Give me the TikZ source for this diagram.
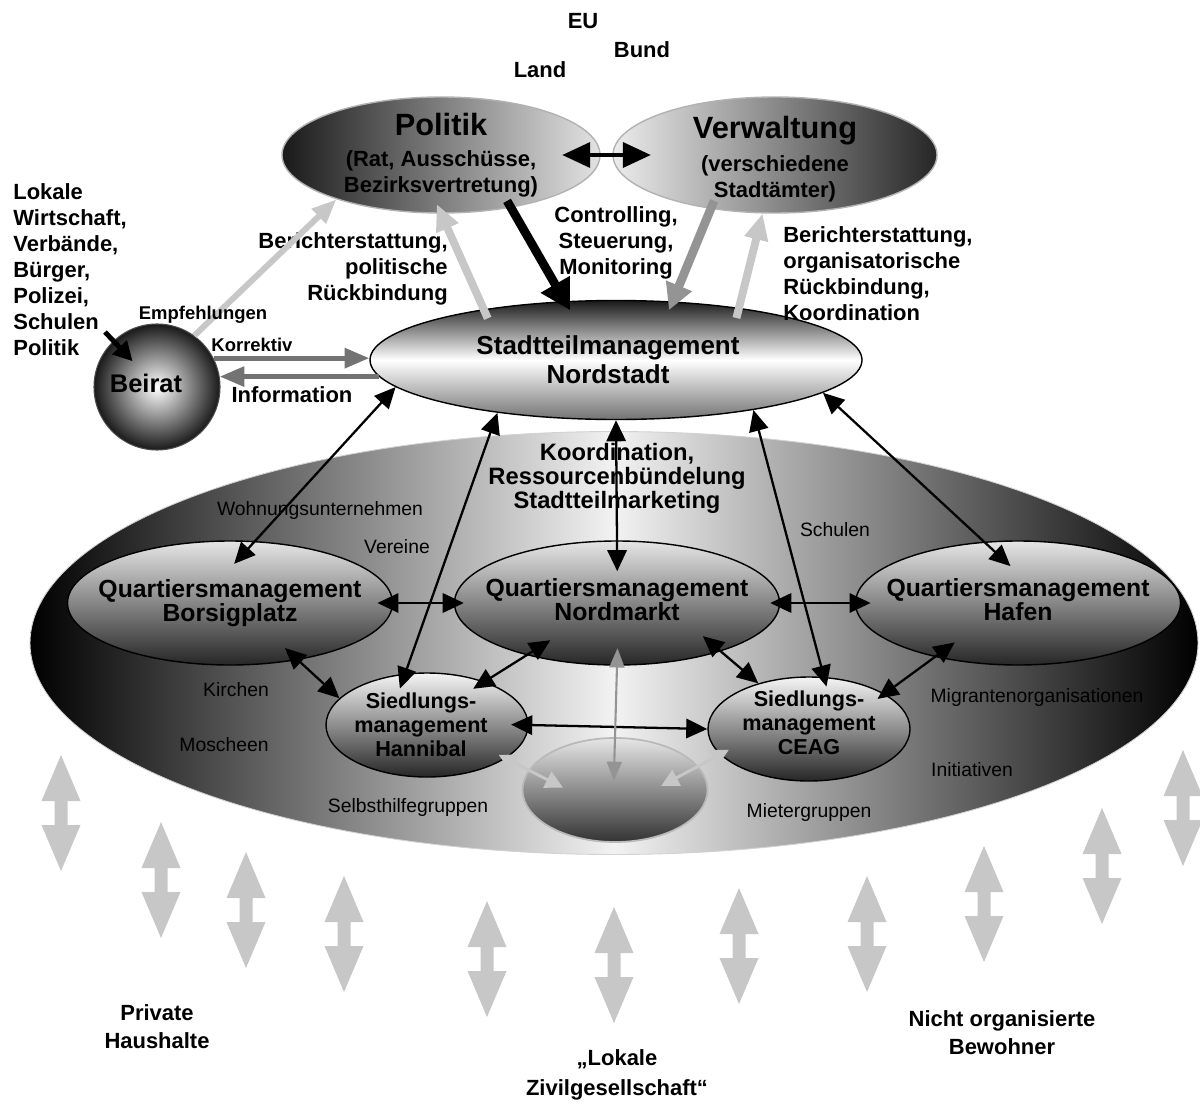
\documentclass[tikz,border=0pt]{standalone}
\usepackage{fontspec}
\setmainfont{Liberation Sans}
\usetikzlibrary{shapes.geometric,arrows.meta}

\definecolor{pale}{gray}{0.78}
\definecolor{midgrey}{gray}{0.58}
\definecolor{darkgrey}{gray}{0.45}

\begin{document}
\begin{tikzpicture}[x=2cm,y=2cm,
  lbl/.style={inner sep=0pt, font=\bfseries\fontsize{12.5}{14.8}\selectfont},
  lblsmall/.style={inner sep=0pt, font=\bfseries\fontsize{10.5}{12}\selectfont},
  grp/.style={inner sep=0pt, font=\fontsize{11}{13}\selectfont},
  oval/.style={ellipse, line width=0.8pt},
  qmoval/.style={oval, draw=black, minimum width=6.5cm, minimum height=2.48cm, top color=gray!20, bottom color=black!85},
  smoval/.style={oval, draw=black, minimum width=4.04cm, minimum height=2.08cm, top color=gray!8, bottom color=black!85},
  qmtext/.style={inner sep=0pt, align=center, font=\bfseries\fontsize{14.1}{13.7}\selectfont},
  smtext/.style={inner sep=0pt, align=center, font=\bfseries\fontsize{12.3}{13.7}\selectfont},
  link/.style={draw=black, line width=1.3pt, >={Triangle[length=12pt,width=11pt]}, <->},
  greylink/.style={draw=midgrey, line width=1.2pt, >={Triangle[length=11pt,width=8.5pt]}, <->},
  faint/.style={draw=pale, line width=1.7pt, >={Triangle[length=10pt,width=10pt]}, <->},
  steer/.style={draw=black, line width=5pt, >={Triangle[length=17pt,width=18pt]}, ->},
  order/.style={draw=midgrey, line width=5pt, >={Triangle[length=15pt,width=15pt]}, ->},
  report/.style={draw=pale, line width=4.5pt, >={Triangle[length=15pt,width=13pt]}, ->},
  hint/.style={draw=pale, line width=3.4pt, >={Triangle[length=14pt,width=11pt]}, ->},
  talk/.style={draw=darkgrey, line width=2.8pt, >={Triangle[length=14pt,width=11pt]}, ->},
  duplex/.style={draw=black, line width=2.8pt, >={Triangle[length=16pt,width=14pt]}, <->},
  push/.style={draw=black, line width=2.8pt, >={Triangle[length=11pt,width=11pt]}, ->}
]
\useasboundingbox (0,0) rectangle (12,-11.06);

%% Background ellipse (lokale Zivilgesellschaft)
\node[oval, draw=gray!35, line width=0.5pt, minimum width=23.36cm, minimum height=8.46cm,
  left color=black, right color=black, middle color=gray!10] (big) at (6.14,-6.43) {};

%% Grey double arrows
\foreach \x/\y in {0.61/7.55, 1.61/8.22, 2.46/8.52, 3.44/8.76, 4.87/9.01, 6.14/9.07,
                   7.39/8.88, 8.67/8.76, 9.84/8.46, 11.02/8.08, 11.83/7.50}
  \fill[pale] (\x,-\y) -- ++(0.195,-0.46) -- ++(-0.13,0) -- ++(0,-0.24) -- ++(0.13,0)
    -- ++(-0.195,-0.46) -- ++(-0.195,0.46) -- ++(0.13,0) -- ++(0,0.24) -- ++(-0.13,0) -- cycle;

%% Upper level
\node[oval, draw=gray!60, minimum width=6.36cm, minimum height=2.32cm,
  left color=black!90, right color=gray!22] (politik) at (4.41,-1.55) {};
\node[oval, draw=gray!60, minimum width=6.48cm, minimum height=2.32cm,
  left color=gray!15, right color=black!85] (verw) at (7.75,-1.55) {};
\node[oval, draw=black, minimum width=9.84cm, minimum height=2.38cm,
  top color=black!90, bottom color=black!55, middle color=white] (stm) at (6.16,-3.60) {};
\node[circle, draw=black!70, line width=0.6pt, minimum size=2.52cm,
  inner color=white, outer color=black!90] (beirat) at (1.57,-3.87) {};

%% Quartiere
\node[qmoval] (qmb) at (2.30,-6.03) {};
\node[qmoval] (qmn) at (6.17,-6.03) {};
\node[qmoval] (qmh) at (10.18,-6.03) {};
\node[smoval] (smh) at (4.27,-7.25) {};
\node[smoval] (smc) at (8.09,-7.29) {};
\node[oval, draw=gray!55, line width=1pt, minimum width=3.7cm, minimum height=2.08cm,
  top color=gray!20, bottom color=black!80] (zg) at (6.15,-7.90) {};

%% Texts in the ovals
\node[lbl, align=center] (politiktext) at (politik)
  {{\fontsize{17.5}{20}\selectfont Politik}\\[3pt](Rat, Ausschüsse,\\Bezirksvertretung)};
\node[lbl, align=center] (verwtext) at ([yshift=-0.08cm]verw.center)
  {{\fontsize{17.5}{20}\selectfont Verwaltung}\\[4pt](verschiedene\\Stadtämter)};
\node[inner sep=0pt, align=center, font=\bfseries\fontsize{14.8}{16.5}\selectfont] (stmtext)
  at ([xshift=-0.16cm]stm.center) {Stadtteilmanagement\\Nordstadt};
\node[inner sep=0pt, font=\bfseries\fontsize{14.5}{16}\selectfont] (beirattext)
  at ([xshift=-0.22cm,yshift=0.08cm]beirat.center) {Beirat};
\node[qmtext] (qmbtext) at (qmb) {Quartiersmanagement\\Borsigplatz};
\node[qmtext] (qmntext) at ([yshift=0.06cm]qmn.center) {Quartiersmanagement\\Nordmarkt};
\node[qmtext] (qmhtext) at ([yshift=0.06cm]qmh.center) {Quartiersmanagement\\Hafen};
\node[smtext] (smhtext) at ([xshift=-0.12cm]smh.center) {Siedlungs-\\management\\Hannibal};
\node[smtext] (smctext) at ([yshift=0.12cm]smc.center) {Siedlungs-\\management\\CEAG};

%% Labels
\node[lbl] (eu) at (5.83,-0.21) {EU};
\node[lbl] (bund) at (6.42,-0.50) {Bund};
\node[lbl] (land) at (5.40,-0.70) {Land};
\node[lbl, align=left, anchor=west] (akteure) at (0.13,-2.70)
  {Lokale\\Wirtschaft,\\Verbände,\\Bürger,\\Polizei,\\Schulen\\Politik};
\node[lbl, align=right, anchor=east] (bericht) at (4.48,-2.69)
  {Berichterstattung,\\politische\\Rückbindung};
\node[lbl, align=center] (steuerung) at (6.16,-2.43) {Controlling,\\Steuerung,\\Monitoring};
\node[lbl, align=left, anchor=west] (rueck) at (7.83,-2.74)
  {Berichterstattung,\\organisatorische\\Rückbindung,\\Koordination};
\node[inner sep=0pt, align=center, font=\bfseries\fontsize{13.5}{13.7}\selectfont] (koord)
  at (6.17,-4.78) {Koordination,\\Ressourcenbündelung\\Stadtteilmarketing};
\node[grp] (wohnung) at (3.20,-5.10) {Wohnungsunternehmen};
\node[grp] (vereine) at (3.97,-5.47) {Vereine};
\node[grp] (schulen) at (8.35,-5.30) {Schulen};
\node[grp] (kirchen) at (2.36,-6.90) {Kirchen};
\node[grp] (moscheen) at (2.24,-7.45) {Moscheen};
\node[grp] (migranten) at (10.37,-6.97) {Migrantenorganisationen};
\node[grp] (initiativen) at (9.72,-7.70) {Initiativen};
\node[grp] (selbsthilfe) at (4.08,-8.07) {Selbsthilfegruppen};
\node[grp] (mieter) at (8.09,-8.12) {Mietergruppen};
\node[lbl, align=center, font=\bfseries\fontsize{12.5}{16}\selectfont] (haushalte)
  at (1.57,-10.27) {Private\\Haushalte};
\node[lbl, align=center, font=\bfseries\fontsize{12.5}{17}\selectfont] (zivil)
  at (6.17,-10.75) {„Lokale\\Zivilgesellschaft“};
\node[lbl, align=center, font=\bfseries\fontsize{12.5}{16}\selectfont] (bewohner)
  at (10.02,-10.33) {Nicht organisierte\\Bewohner};

%% Upper arrows
\draw[hint] (beirat.54) -- (politik.203);
\draw[report, shorten <=-5.7pt, shorten >=-6pt] (stm.159) -- (politik.270);
\draw[steer, shorten <=-4.5pt, shorten >=-6pt] (politik.323) -- (stm.131);
\draw[order, shorten <=-5pt, shorten >=-5.4pt] (verw.220) -- (stm.46);
\draw[report, shorten <=-6pt] (stm.23) -- (verw.258);
\draw[duplex, shorten <=-22pt, shorten >=-22pt] (politik.0) -- (verw.180);

%% Beirat
\coordinate (polin) at (1.05,-3.32);
\draw[push, shorten >=-16pt] (polin) -- (beirat);
\draw[talk] (beirat.27) -- (beirat.27 -| stm.west);
\draw[talk] (stm.184) -- (stm.184 -| beirat.9);
\node[lblsmall] (empf) at (2.03,-3.15) {Empfehlungen};
\node[lblsmall] (korr) at (2.52,-3.45) {Korrektiv};
\node[lbl] (info) at (2.92,-3.95) {Information};

%% Links Stadtteilmanagement - Quartiere
\draw[link, shorten >=-17.6pt] (stm.187) -- (qmb.68);
\draw[link, shorten >=-9pt] (stm.204) -- (smh.113);
\draw[link, shorten >=-17.6pt] (stm.270) -- (qmn.90);
\draw[link, shorten >=-5.7pt] (stm.340) -- (smc.74);
\draw[link, shorten >=-20.5pt] (stm.351) -- (qmh.119);

%% Links between the Quartiere
\draw[link, shorten <=-9pt, shorten >=-5.7pt] (qmb.0) -- (qmn.180);
\draw[link, shorten <=-5.7pt, shorten >=-9pt] (qmn.0) -- (qmh.180);
\draw[link, shorten <=-10pt] (qmb.320) -- (smh.163);
\draw[link, shorten <=-16pt, shorten >=-7.7pt] (qmn.210) -- (smh.37);
\draw[link, shorten <=-13.4pt] (qmn.335) -- (smc.138);
\draw[link, shorten <=-14pt, shorten >=-5pt] (qmh.213) -- (smc.25);
\draw[link, shorten <=-10pt] (smh.0) -- (smc.180);
\draw[greylink, shorten <=-10pt, shorten >=-25pt] (qmn.270) -- (zg.90);
\draw[faint, shorten <=-22pt, shorten >=-4.5pt] (zg.167) -- (smh.337);
\draw[faint, shorten <=-24pt, shorten >=-5.7pt] (zg.16) -- (smc.196);

\end{tikzpicture}
\end{document}
